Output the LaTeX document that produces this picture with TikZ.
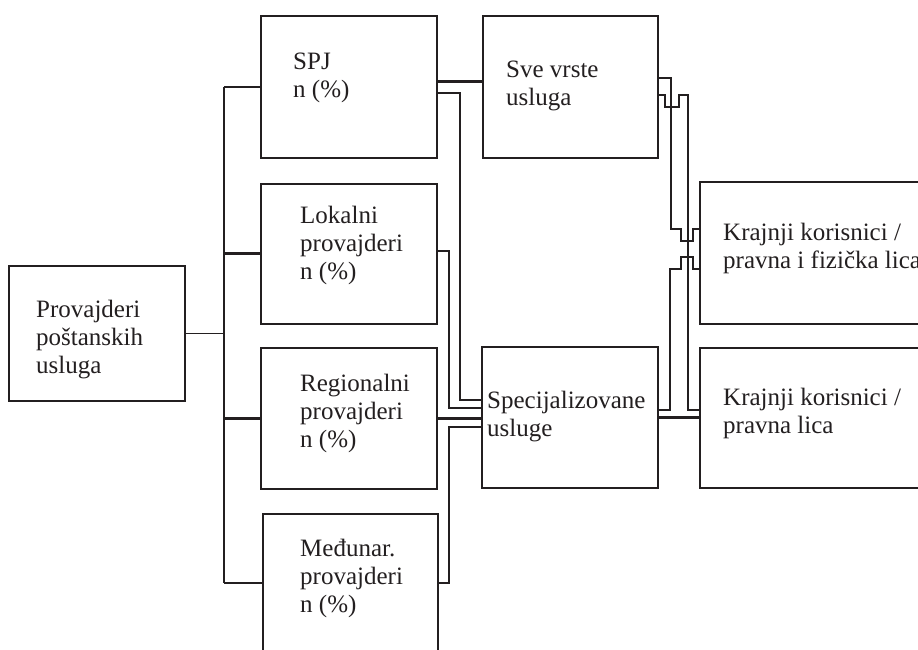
\documentclass[tikz,border=0pt]{standalone}
\usepackage{fontspec}
\setmainfont{Liberation Serif}
\usetikzlibrary{calc}
\definecolor{ink}{HTML}{231F20}

\begin{document}
\begin{tikzpicture}[x=1pt,y=-1pt,
  box/.style={draw=ink, line width=1.8pt, anchor=north west, inner sep=0pt},
  lbl/.style={anchor=west, align=left, inner sep=0pt, text=ink, font=\fontsize{25}{28}\selectfont},
  link/.style={draw=ink, line width=1.8pt},
  fat/.style={draw=ink, line width=3pt}]
  \useasboundingbox (0,0) rectangle (918,649);
  \clip (0,0) rectangle (918,649);

  % boxes
  \node[box, minimum width=176pt, minimum height=135pt] (prov) at (8,265) {};
  \node[box, minimum width=176pt, minimum height=142pt] (spj) at (260,15) {};
  \node[box, minimum width=176pt, minimum height=140pt] (lok) at (260,183) {};
  \node[box, minimum width=176pt, minimum height=141pt] (reg) at (260,347) {};
  \node[box, minimum width=175pt, minimum height=138pt] (med) at (262,513) {};
  \node[box, minimum width=175pt, minimum height=142pt] (sve) at (482,15) {};
  \node[box, minimum width=176pt, minimum height=141pt] (spec) at (481,346) {};
  \node[box, minimum width=240pt, minimum height=142pt] (k1) at (699,181) {};
  \node[box, minimum width=240pt, minimum height=140pt] (k2) at (699,347) {};

  % texts
  \node[lbl] (prov-t) at (36,340) {Provajderi\\poštanskih\\usluga};
  \node[lbl] (spj-t) at (293,77.5) {SPJ\\n (\%)};
  \node[lbl] (lok-t) at (300,245.5) {Lokalni\\provajderi\\n (\%)};
  \node[lbl] (reg-t) at (300,413) {Regionalni\\provajderi\\n (\%)};
  \node[lbl] (med-t) at (300,578) {Međunar.\\provajderi\\n (\%)};
  \node[lbl] (sve-t) at (506,85.5) {Sve vrste\\usluga};
  \node[lbl] (spec-t) at (487,416.5) {Specijalizovane\\usluge};
  \node[lbl] (k1-t) at (723,248.5) {Krajnji korisnici /\\pravna i fizička lica};
  \node[lbl] (k2-t) at (723,413.5) {Krajnji korisnici /\\pravna lica};

  % left bus
  \draw[link] (prov.east) -- ++(38,0) coordinate (bus);
  \draw[link] (bus |- spj.west) -- (bus |- med.west);
  \draw[link] (bus |- spj.west) -- (spj.west);
  \draw[fat] (bus |- lok.west) -- (lok.west);
  \draw[fat] (bus |- reg.west) -- (reg.west);
  \draw[link] (bus |- med.west) -- (med.west);

  % providers to services
  \draw[fat] ($(spj.north east)+(0,66)$) -- ($(sve.north west)+(0,66)$);
  \draw[link] ($(spj.north east)+(0,78)$) -- ++(22,0) |- ($(spec.north west)+(0,54)$);
  \draw[link] ($(lok.north east)+(0,68)$) -- ++(11,0) |- ($(spec.north west)+(0,62)$);
  \draw[fat] (reg.east) -- (reg.east -| spec.west);
  \draw[link] (med.east) -- ++(10,0) |- ($(spec.north west)+(0,81)$);

  % services to users (with line hops)
  \draw[link] ($(sve.north east)+(0,63)$) -- ++(12,0) |- ($(k1.north west)+(-18,48)$)
    -- ++(0,12) -- ++(12,0) -- ++(0,-12) -- ($(k1.north west)+(0,48)$);
  \draw[link] ($(sve.north east)+(0,80)$) -- ++(6,0) -- ++(0,12) -- ++(14,0) -- ++(0,-12)
    -| ($(k2.north west)+(-11,63)$) -- ($(k2.north west)+(0,63)$);
  \draw[link] ($(spec.north east)+(0,64)$) -- ++(11,0) |- ($(k1.north west)+(-18,88)$)
    -- ++(0,-12) -- ++(12,0) -- ++(0,12) -- ($(k1.north west)+(0,88)$);
  \draw[fat] (spec.east) -- (spec.east -| k2.west);
\end{tikzpicture}
\end{document}
